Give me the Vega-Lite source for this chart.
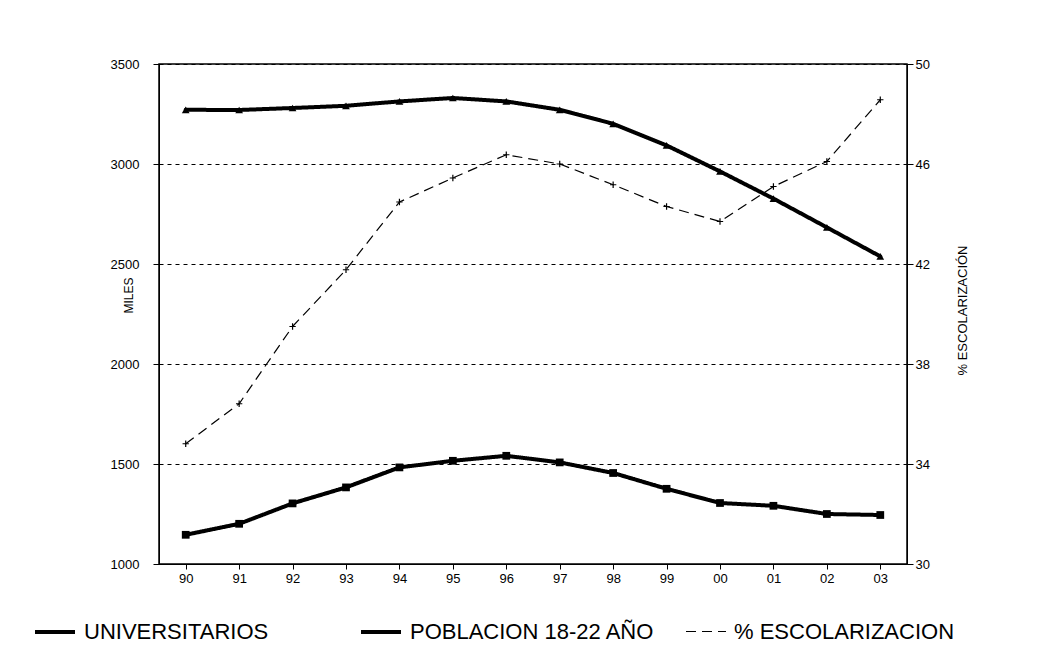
{
  "$schema": "https://vega.github.io/schema/vega-lite/v6.json",
  "autosize": "none",
  "padding": {"left": 159, "top": 64, "right": 131, "bottom": 108},
  "width": 748,
  "height": 500,
  "background": "white",
  "config": {
    "font": "Liberation Sans",
    "view": {"stroke": "black", "strokeWidth": 1.5},
    "axis": {"labelFont": "Liberation Sans", "labelFontSize": 13, "labelColor": "black", "domainColor": "black", "tickColor": "black", "titleFont": "Liberation Sans", "titleFontWeight": "normal", "titleColor": "black"},
    "legend": {"labelFont": "Liberation Sans", "labelFontSize": 22, "labelColor": "black", "padding": 0, "labelLimit": 0}
  },
  "datasets": {
    "miles": [
      {"anio": "90", "serie": "UNIVERSITARIOS", "valor": 1146},
      {"anio": "91", "serie": "UNIVERSITARIOS", "valor": 1201},
      {"anio": "92", "serie": "UNIVERSITARIOS", "valor": 1303},
      {"anio": "93", "serie": "UNIVERSITARIOS", "valor": 1383},
      {"anio": "94", "serie": "UNIVERSITARIOS", "valor": 1483},
      {"anio": "95", "serie": "UNIVERSITARIOS", "valor": 1516},
      {"anio": "96", "serie": "UNIVERSITARIOS", "valor": 1541},
      {"anio": "97", "serie": "UNIVERSITARIOS", "valor": 1508},
      {"anio": "98", "serie": "UNIVERSITARIOS", "valor": 1455},
      {"anio": "99", "serie": "UNIVERSITARIOS", "valor": 1376},
      {"anio": "00", "serie": "UNIVERSITARIOS", "valor": 1305},
      {"anio": "01", "serie": "UNIVERSITARIOS", "valor": 1291},
      {"anio": "02", "serie": "UNIVERSITARIOS", "valor": 1250},
      {"anio": "03", "serie": "UNIVERSITARIOS", "valor": 1245},
      {"anio": "90", "serie": "POBLACION 18-22 AÑO", "valor": 3271},
      {"anio": "91", "serie": "POBLACION 18-22 AÑO", "valor": 3270},
      {"anio": "92", "serie": "POBLACION 18-22 AÑO", "valor": 3280},
      {"anio": "93", "serie": "POBLACION 18-22 AÑO", "valor": 3291},
      {"anio": "94", "serie": "POBLACION 18-22 AÑO", "valor": 3313},
      {"anio": "95", "serie": "POBLACION 18-22 AÑO", "valor": 3330},
      {"anio": "96", "serie": "POBLACION 18-22 AÑO", "valor": 3313},
      {"anio": "97", "serie": "POBLACION 18-22 AÑO", "valor": 3271},
      {"anio": "98", "serie": "POBLACION 18-22 AÑO", "valor": 3201},
      {"anio": "99", "serie": "POBLACION 18-22 AÑO", "valor": 3093},
      {"anio": "00", "serie": "POBLACION 18-22 AÑO", "valor": 2963},
      {"anio": "01", "serie": "POBLACION 18-22 AÑO", "valor": 2827},
      {"anio": "02", "serie": "POBLACION 18-22 AÑO", "valor": 2683},
      {"anio": "03", "serie": "POBLACION 18-22 AÑO", "valor": 2538}
    ],
    "esc": [
      {"anio": "90", "serie": "% ESCOLARIZACION", "valor": 34.81},
      {"anio": "91", "serie": "% ESCOLARIZACION", "valor": 36.41},
      {"anio": "92", "serie": "% ESCOLARIZACION", "valor": 39.5},
      {"anio": "93", "serie": "% ESCOLARIZACION", "valor": 41.77},
      {"anio": "94", "serie": "% ESCOLARIZACION", "valor": 44.48},
      {"anio": "95", "serie": "% ESCOLARIZACION", "valor": 45.44},
      {"anio": "96", "serie": "% ESCOLARIZACION", "valor": 46.37},
      {"anio": "97", "serie": "% ESCOLARIZACION", "valor": 46.0},
      {"anio": "98", "serie": "% ESCOLARIZACION", "valor": 45.17},
      {"anio": "99", "serie": "% ESCOLARIZACION", "valor": 44.3},
      {"anio": "00", "serie": "% ESCOLARIZACION", "valor": 43.7},
      {"anio": "01", "serie": "% ESCOLARIZACION", "valor": 45.1},
      {"anio": "02", "serie": "% ESCOLARIZACION", "valor": 46.1},
      {"anio": "03", "serie": "% ESCOLARIZACION", "valor": 48.57}
    ]
  },
  "encoding": {
    "x": {
      "field": "anio", "type": "ordinal",
      "scale": {"type": "point", "padding": 0.5, "domain": ["90","91","92","93","94","95","96","97","98","99","00","01","02","03"]},
      "axis": {"title": null, "labelAngle": 0, "tickSize": 5, "labelPadding": 3, "domain": true, "grid": false}
    }
  },
  "layer": [
    {
      "data": {"name": "miles"},
      "layer": [
        {
          "mark": {"type": "line", "strokeCap": "round", "strokeJoin": "round"},
          "encoding": {
            "y": {
              "field": "valor", "type": "quantitative",
              "scale": {"domain": [1000, 3500], "nice": false, "zero": false},
              "axis": {"title": "MILES", "format": "d", "titleFontSize": 12, "titleX": -31, "titleY": 231, "titleAngle": 270, "titleAlign": "center", "titleBaseline": "middle", "values": [1000,1500,2000,2500,3000,3500], "tickSize": 6, "labelPadding": 14, "grid": true, "gridColor": "black", "gridDash": [4,4], "gridWidth": 1, "gridOpacity": 1}
            },
            "color": {"field": "serie", "type": "nominal", "scale": {"domain": ["UNIVERSITARIOS", "POBLACION 18-22 AÑO", "% ESCOLARIZACION"], "range": ["black", "black", "black"]}, "legend": {"title": null, "orient": "none", "direction": "horizontal", "legendX": -126, "legendY": 546, "symbolType": "stroke", "symbolSize": 1600, "labelOffset": 7, "columnPadding": 24, "gridAlign": "all"}},
            "strokeDash": {"field": "serie", "type": "nominal", "scale": {"domain": ["UNIVERSITARIOS", "POBLACION 18-22 AÑO", "% ESCOLARIZACION"], "range": [[1,0],[1,0],[10,6]]}, "legend": {"title": null, "orient": "none", "direction": "horizontal", "legendX": -126, "legendY": 546, "symbolType": "stroke", "symbolSize": 1600, "labelOffset": 7, "columnPadding": 24, "gridAlign": "all"}},
            "strokeWidth": {"field": "serie", "type": "nominal", "scale": {"type": "ordinal", "domain": ["UNIVERSITARIOS", "POBLACION 18-22 AÑO", "% ESCOLARIZACION"], "range": [4, 4, 1.2]}, "legend": {"title": null, "orient": "none", "direction": "horizontal", "legendX": -126, "legendY": 546, "symbolType": "stroke", "symbolSize": 1600, "labelOffset": 7, "columnPadding": 24, "gridAlign": "all"}}
          }
        },
        {
          "mark": {"type": "point", "filled": true, "color": "black", "opacity": 1},
          "encoding": {
            "y": {"field": "valor", "type": "quantitative", "scale": {"domain": [1000, 3500], "nice": false, "zero": false}},
            "shape": {"field": "serie", "type": "nominal", "scale": {"domain": ["UNIVERSITARIOS", "POBLACION 18-22 AÑO"], "range": ["square", "triangle-up"]}, "legend": null},
            "size": {"value": 60}
          }
        }
      ]
    },
    {
      "data": {"name": "esc"},
      "layer": [
        {
          "mark": {"type": "line"},
          "encoding": {
            "y": {
              "field": "valor", "type": "quantitative",
              "scale": {"domain": [30, 50], "nice": false, "zero": false},
              "axis": {"orient": "right", "title": "% ESCOLARIZACIÓN", "titleFontSize": 13, "titleX": 55, "titleY": 246, "titleAngle": 270, "titleAlign": "center", "titleBaseline": "middle", "values": [30,34,38,42,46,50], "tickSize": 6, "labelPadding": 2, "grid": false}
            },
            "color": {"field": "serie", "type": "nominal", "scale": {"domain": ["UNIVERSITARIOS", "POBLACION 18-22 AÑO", "% ESCOLARIZACION"], "range": ["black", "black", "black"]}},
            "strokeDash": {"field": "serie", "type": "nominal", "scale": {"domain": ["UNIVERSITARIOS", "POBLACION 18-22 AÑO", "% ESCOLARIZACION"], "range": [[1,0],[1,0],[10,6]]}},
            "strokeWidth": {"field": "serie", "type": "nominal", "scale": {"type": "ordinal", "domain": ["UNIVERSITARIOS", "POBLACION 18-22 AÑO", "% ESCOLARIZACION"], "range": [4, 4, 1.2]}}
          }
        },
        {
          "mark": {"type": "point", "filled": false, "color": "black", "opacity": 1, "shape": "M-1,0L1,0M0,-1L0,1", "strokeWidth": 1.2},
          "encoding": {
            "y": {"field": "valor", "type": "quantitative", "scale": {"domain": [30, 50], "nice": false, "zero": false}},
            "size": {"value": 40}
          }
        }
      ]
    }
  ],
  "resolve": {"scale": {"y": "independent"}}
}
